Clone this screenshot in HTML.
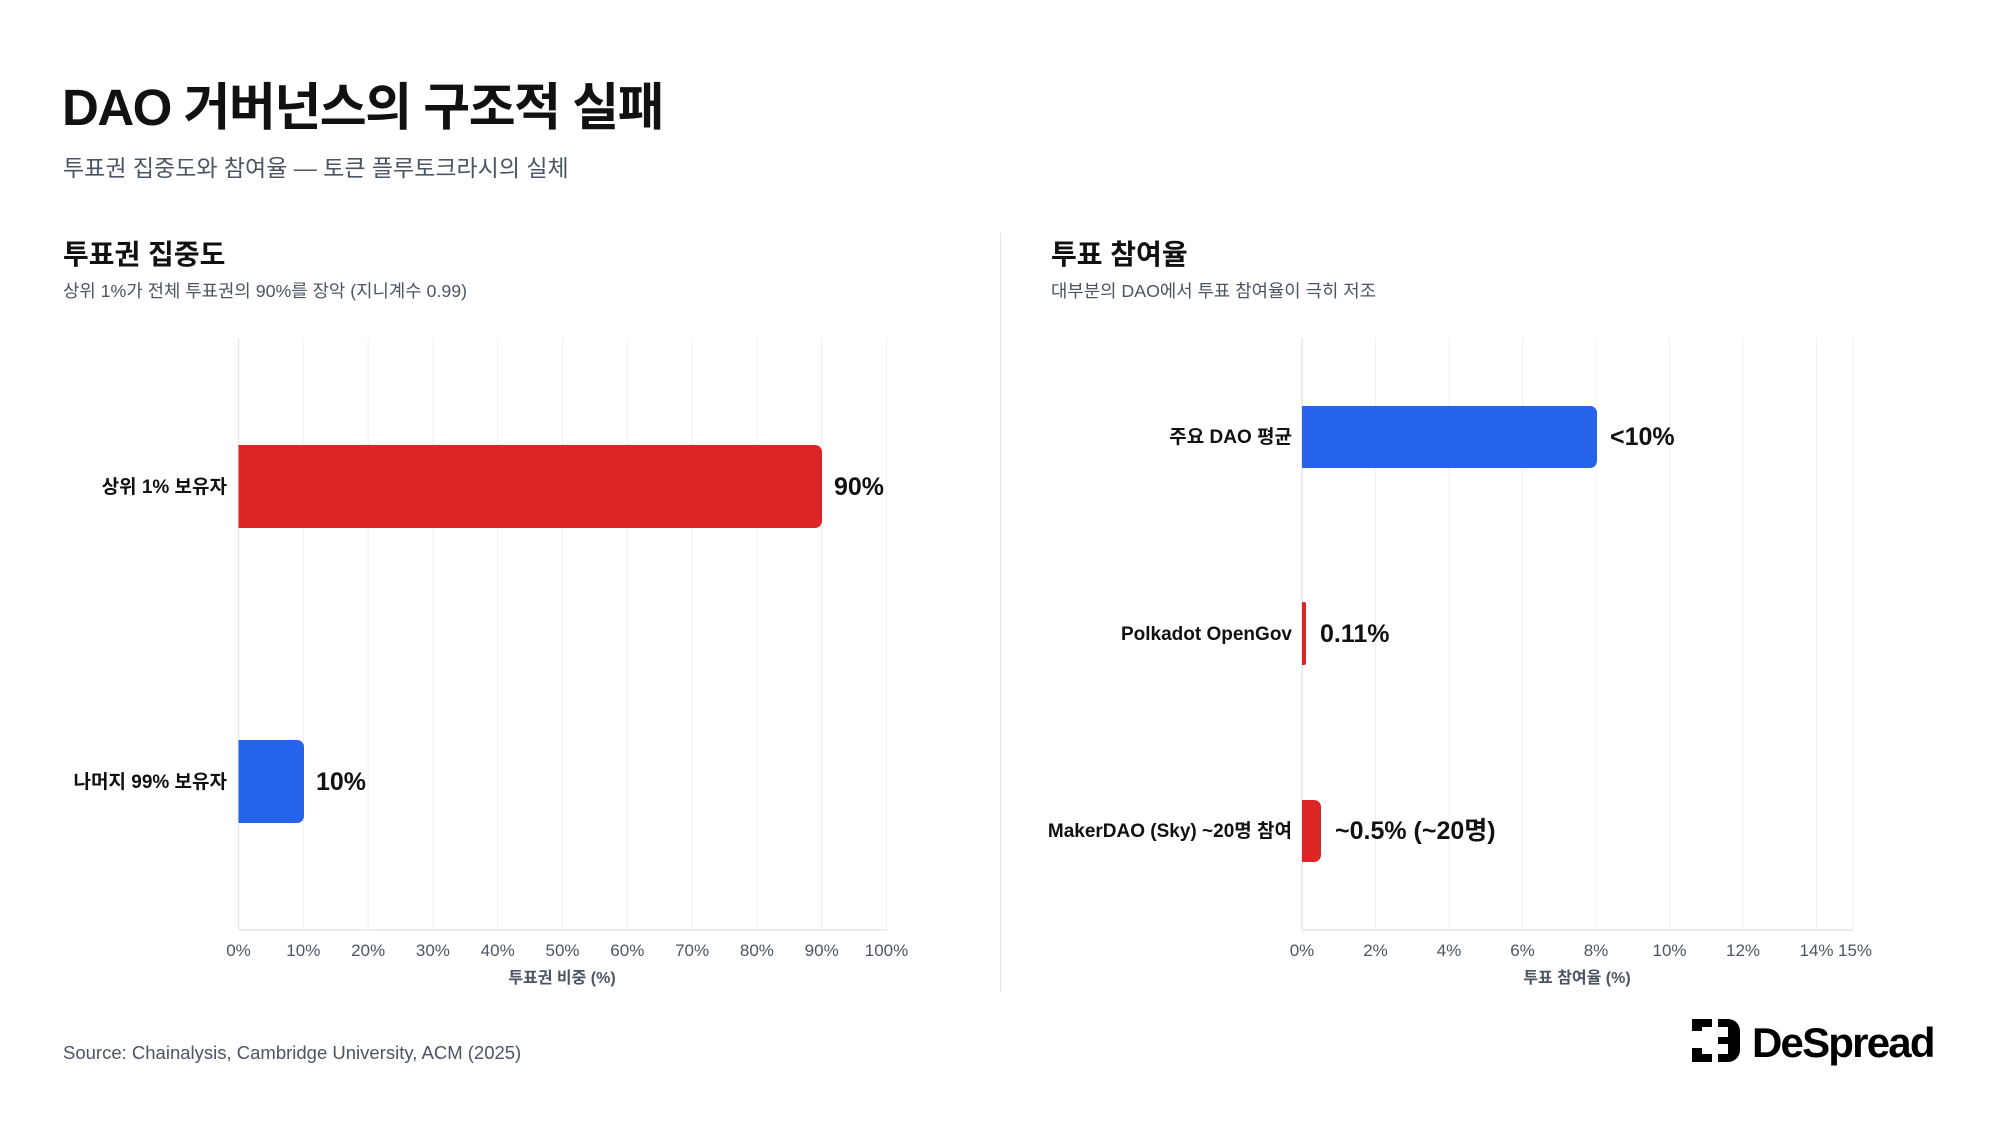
<!DOCTYPE html>
<html><head><meta charset="utf-8"><style>
body{margin:0;width:2000px;height:1125px;background:#fff;font-family:"Liberation Sans","Noto Sans CJK KR",sans-serif;position:relative;overflow:hidden;color:#111}
.a{position:absolute;white-space:nowrap}
</style></head><body>
<div class="a" style="left:62px;top:66px;font-size:51px;font-weight:700;letter-spacing:-1.5px">DAO 거버넌스의 구조적 실패</div>
<div class="a" style="left:63px;top:149px;font-size:23px;color:#4b5563">투표권 집중도와 참여율 — 토큰 플루토크라시의 실체</div>
<div class="a" style="left:63px;top:233px;font-size:28px;font-weight:700">투표권 집중도</div>
<div class="a" style="left:63px;top:277px;font-size:17.8px;color:#4b5563">상위 1%가 전체 투표권의 90%를 장악 (지니계수 0.99)</div>
<div class="a" style="left:1051px;top:233px;font-size:28px;font-weight:700">투표 참여율</div>
<div class="a" style="left:1051px;top:277px;font-size:17.8px;color:#4b5563">대부분의 DAO에서 투표 참여율이 극히 저조</div>
<div class="a" style="left:1000px;top:233px;width:1px;height:759px;background:#e5e7eb"></div>
<svg class="a" style="left:0;top:0" width="2000" height="1125" font-family="Liberation Sans, Noto Sans CJK KR, sans-serif">
<g stroke="#f0f0f0" stroke-width="1">
<line x1="303.3" y1="338" x2="303.3" y2="930"/><line x1="368.1" y1="338" x2="368.1" y2="930"/><line x1="432.9" y1="338" x2="432.9" y2="930"/><line x1="497.7" y1="338" x2="497.7" y2="930"/><line x1="562.5" y1="338" x2="562.5" y2="930"/><line x1="627.3" y1="338" x2="627.3" y2="930"/><line x1="692.1" y1="338" x2="692.1" y2="930"/><line x1="756.9" y1="338" x2="756.9" y2="930"/><line x1="821.7" y1="338" x2="821.7" y2="930"/><line x1="886.5" y1="338" x2="886.5" y2="930"/>
<line x1="1375.5" y1="338" x2="1375.5" y2="930"/><line x1="1449" y1="338" x2="1449" y2="930"/><line x1="1522.5" y1="338" x2="1522.5" y2="930"/><line x1="1596" y1="338" x2="1596" y2="930"/><line x1="1669.5" y1="338" x2="1669.5" y2="930"/><line x1="1743" y1="338" x2="1743" y2="930"/><line x1="1816.5" y1="338" x2="1816.5" y2="930"/><line x1="1853" y1="338" x2="1853" y2="930"/>
</g>
<g stroke="#e5e7eb" stroke-width="1.5"><line x1="238.5" y1="338" x2="238.5" y2="930"/><line x1="238.5" y1="930" x2="886.5" y2="930"/><line x1="1302" y1="338" x2="1302" y2="930"/><line x1="1302" y1="930" x2="1853" y2="930"/></g>
<path d="M238.5 445H815a7 7 0 0 1 7 7V521a7 7 0 0 1-7 7H238.5Z" fill="#dc2626"/>
<path d="M238.5 740H297a7 7 0 0 1 7 7V816a7 7 0 0 1-7 7H238.5Z" fill="#2563eb"/>
<path d="M1302 406H1590a7 7 0 0 1 7 7V461a7 7 0 0 1-7 7H1302Z" fill="#2563eb"/>
<path d="M1302 602H1304a2 2 0 0 1 2 2V663a2 2 0 0 1-2 2H1302Z" fill="#dc2626"/>
<path d="M1302 800H1314a7 7 0 0 1 7 7V855a7 7 0 0 1-7 7H1302Z" fill="#dc2626"/>
<g font-size="19" font-weight="700" text-anchor="end" fill="#111">
<text x="227" y="493">상위 1% 보유자</text><text x="227" y="788">나머지 99% 보유자</text>
<text x="1292" y="443">주요 DAO 평균</text><text x="1292" y="640">Polkadot OpenGov</text><text x="1292" y="837">MakerDAO (Sky) ~20명 참여</text>
</g>
<g font-size="25" font-weight="700" fill="#111">
<text x="834" y="495">90%</text><text x="316" y="790">10%</text>
<text x="1610" y="445">&lt;10%</text><text x="1320" y="642">0.11%</text><text x="1335" y="839">~0.5% (~20명)</text>
</g>
<g font-size="17" fill="#4b5563" text-anchor="middle">
<text x="238.5" y="956">0%</text><text x="303.3" y="956">10%</text><text x="368.1" y="956">20%</text><text x="432.9" y="956">30%</text><text x="497.7" y="956">40%</text><text x="562.5" y="956">50%</text><text x="627.3" y="956">60%</text><text x="692.1" y="956">70%</text><text x="756.9" y="956">80%</text><text x="821.7" y="956">90%</text><text x="886.5" y="956">100%</text>
<text x="1302" y="956">0%</text><text x="1375.5" y="956">2%</text><text x="1449" y="956">4%</text><text x="1522.5" y="956">6%</text><text x="1596" y="956">8%</text><text x="1669.5" y="956">10%</text><text x="1743" y="956">12%</text><text x="1816.5" y="956">14%</text><text x="1855" y="956">15%</text>
<text x="562" y="983" font-size="16" font-weight="700">투표권 비중 (%)</text><text x="1577" y="983" font-size="16" font-weight="700">투표 참여율 (%)</text>
</g>
<g fill="#000">
<rect x="1692" y="1019" width="10" height="12"/><rect x="1692" y="1019" width="20" height="8"/>
<rect x="1692" y="1048" width="10" height="14"/><rect x="1692" y="1054" width="20" height="8"/>
<path d="M1718 1019H1728a12 12 0 0 1 12 12V1050a12 12 0 0 1-12 12H1718V1054H1728V1044H1718V1037H1728V1027H1718Z"/>
</g>
<text x="1752" y="1057" font-size="42" font-weight="700" letter-spacing="-1.8" fill="#000">DeSpread</text>
</svg>
<div class="a" style="left:63px;top:1042px;font-size:18.5px;color:#4b5563">Source: Chainalysis, Cambridge University, ACM (2025)</div>
</body></html>
